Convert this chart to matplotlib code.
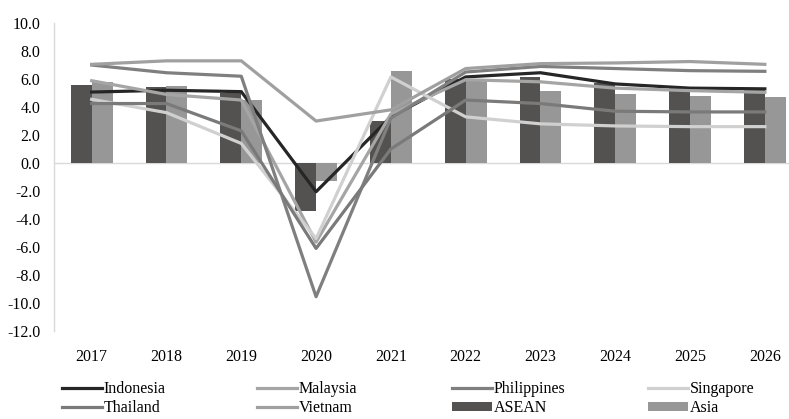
import matplotlib
matplotlib.use("Agg")
import matplotlib.pyplot as plt
import numpy as np
from matplotlib.lines import Line2D
from matplotlib.patches import Patch

plt.rcParams['font.family'] = ['Liberation Serif', 'DejaVu Serif']

years = ["2017", "2018", "2019", "2020", "2021", "2022", "2023", "2024", "2025", "2026"]

indonesia = [5.07, 5.2, 5.1, -2.05, 3.3, 6.15, 6.45, 5.65, 5.35, 5.3]
malaysia = [5.88, 4.9, 4.5, -5.65, 3.5, 5.95, 5.8, 5.35, 5.17, 5.05]
philippines = [7.0, 6.45, 6.2, -9.55, 3.2, 6.5, 6.9, 6.75, 6.6, 6.55]
singapore = [4.55, 3.6, 1.4, -5.4, 6.15, 3.3, 2.8, 2.65, 2.6, 2.6]
thailand = [4.25, 4.25, 2.3, -6.1, 1.0, 4.5, 4.25, 3.7, 3.65, 3.65]
vietnam = [7.05, 7.3, 7.3, 3.0, 3.8, 6.75, 7.1, 7.15, 7.25, 7.05]
asean = [5.57, 5.45, 5.0, -3.4, 3.0, 5.98, 6.17, 5.69, 5.38, 5.26]
asia = [5.8, 5.5, 4.5, -1.26, 6.6, 5.86, 5.12, 4.93, 4.81, 4.69]

y_ticks = [10, 8, 6, 4, 2, 0, -2, -4, -6, -8, -10, -12]

line_series = [
    ("Indonesia", indonesia, "#262626"),
    ("Malaysia", malaysia, "#a5a5a5"),
    ("Philippines", philippines, "#7f7f7f"),
    ("Singapore", singapore, "#d0d0d0"),
    ("Thailand", thailand, "#7a7a7a"),
    ("Vietnam", vietnam, "#a0a0a0"),
]
bar_series = [
    ("ASEAN", asean, "#545250"),
    ("Asia", asia, "#979797"),
]

FS = 11.5

fig = plt.figure(figsize=(7.89, 4.19), dpi=100)
ax = fig.add_axes([0.0688, 0.21, 0.948, 0.735])

x = np.arange(len(years))
bw = 0.28
ax.bar(x - bw / 2, asean, width=bw, color=bar_series[0][2], zorder=2)
ax.bar(x + bw / 2, asia, width=bw, color=bar_series[1][2], zorder=2)

for name, vals, col in line_series:
    ax.plot(x, vals, color=col, lw=2.3, zorder=3, solid_joinstyle='round')

ax.axhline(0, color="#d9d9d9", lw=1, zorder=1)
ax.set_xlim(-0.5, len(years) - 0.5)
ax.set_ylim(-12, 10)
ax.set_yticks(y_ticks)
ax.set_yticklabels([f"{v:.1f}" for v in y_ticks])
ax.set_xticks(x)
ax.set_xticklabels(years)
ax.tick_params(axis='both', length=0, labelsize=FS, colors='black')
ax.tick_params(axis='y', pad=10)
ax.tick_params(axis='x', pad=13)
for s in ("top", "right", "bottom"):
    ax.spines[s].set_visible(False)
ax.spines["left"].set_color("#d9d9d9")
ax.spines["left"].set_linewidth(1)

# legend: four columns of two entries each
columns = [
    [line_series[0], line_series[4]],
    [line_series[1], line_series[5]],
    [line_series[2], bar_series[0]],
    [line_series[3], bar_series[1]],
]
col_x = [62, 257, 452, 648]
for cx, entries in zip(col_x, columns):
    handles = []
    for name, vals, col in entries:
        if name in ("ASEAN", "Asia"):
            handles.append(Patch(facecolor=col, edgecolor='none', label=name))
        else:
            handles.append(Line2D([], [], color=col, lw=2.3, label=name))
    fig.legend(handles=handles, loc='upper left',
               bbox_to_anchor=(cx / 789, 1 - 381 / 419),
               frameon=False, fontsize=FS, handlelength=2.5,
               handletextpad=0.12, labelspacing=0.2, borderpad=0,
               borderaxespad=0, handleheight=0.55)

fig.savefig("out.png", dpi=100)
